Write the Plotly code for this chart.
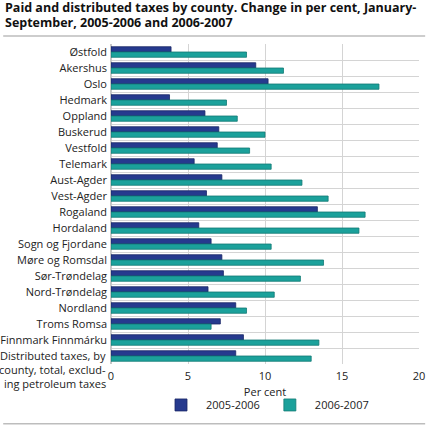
import plotly.graph_objects as go

# Counties, top to bottom as in the chart
counties = ["Østfold", "Akershus", "Oslo", "Hedmark", "Oppland", "Buskerud",
            "Vestfold", "Telemark", "Aust-Agder", "Vest-Agder", "Rogaland",
            "Hordaland", "Sogn og Fjordane", "Møre og Romsdal", "Sør-Trøndelag",
            "Nord-Trøndelag", "Nordland", "Troms Romsa", "Finnmark Finnmárku",
            "Distributed taxes, by<br>county, total, exclud-<br>ing petroleum taxes"]

# Change in per cent
change_2005_2006 = [3.9, 9.4, 10.2, 3.8, 6.1, 7.0, 6.9, 5.4, 7.2, 6.2, 13.4,
                    5.7, 6.5, 7.2, 7.3, 6.3, 8.1, 7.1, 8.6, 8.1]
change_2006_2007 = [8.8, 11.2, 17.4, 7.5, 8.2, 10.0, 9.0, 10.4, 12.4, 14.1, 16.5,
                    16.1, 10.4, 13.8, 12.3, 10.6, 8.8, 6.5, 13.5, 13.0]

x_ticks = [0, 5, 10, 15, 20]

title_lines = ["Paid and distributed taxes by county. Change in per cent, January-",
               "September, 2005-2006 and 2006-2007"]

pos = list(range(len(counties)))
FONT = "Open Sans, sans-serif"
FS = 11

fig = go.Figure()
fig.add_trace(go.Bar(y=pos, x=change_2005_2006, orientation="h", name="2005-2006",
                     marker=dict(color="#263a8e", line=dict(color="#1a2766", width=0.8))))
fig.add_trace(go.Bar(y=pos, x=change_2006_2007, orientation="h", name="2006-2007",
                     marker=dict(color="#1ba19b", line=dict(color="#137a75", width=0.8))))

fig.update_layout(
    width=427, height=428,
    margin=dict(l=111, r=8, t=44, b=64, autoexpand=False),
    paper_bgcolor="white", plot_bgcolor="white",
    barmode="group", bargap=0.34, bargroupgap=0,
    font=dict(family=FONT, size=FS, color="#222222"),
    legend=dict(orientation="h", x=0.5, xanchor="center", y=-0.128, yanchor="middle",
                font=dict(size=FS), itemwidth=40, traceorder="normal"),
    showlegend=True,
)

# the last (three-line) label hangs down from its tick, so each line is an annotation
# (paper coords, since lines below the last band would be hidden with data coords)
ticktext = counties[:-1] + [""]
n = len(counties)
for i, line in enumerate(counties[-1].split("<br>")):
    y_data = (n - 1) - 0.06 + i * 0.875
    fig.add_annotation(text=line, xref="paper", yref="paper", x=-0.01,
                       y=(n - 0.5 - y_data) / n,
                       xanchor="right", yanchor="middle", showarrow=False,
                       font=dict(size=FS))

# title, one annotation per line to keep the tight line spacing
for i, line in enumerate(title_lines):
    fig.add_annotation(text="<b>" + line + "</b>", xref="paper", yref="paper",
                       x=-0.352, y=1.1125 - i * 0.044, xanchor="left", yanchor="middle",
                       showarrow=False, font=dict(size=12.5, color="#111111"))

fig.update_xaxes(range=[0, 20], tickvals=x_ticks, showgrid=True, gridcolor="#d4d4d4",
                 gridwidth=1, zeroline=True, zerolinecolor="#c8c8c8", ticks="",
                 automargin=False, ticklabelstandoff=4,
                 title=dict(text="Per cent", standoff=6, font=dict(size=FS)),
                 fixedrange=True)
fig.update_yaxes(range=[n - 0.5, -0.5], tickvals=pos, ticktext=ticktext,
                 showgrid=False, ticks="", zeroline=False, automargin=False,
                 ticklabelstandoff=3,
                 minor=dict(tickvals=[p + 0.5 for p in pos[:-1]], showgrid=True,
                            gridcolor="#d4d4d4", gridwidth=1),
                 fixedrange=True)

# rules under the title and at the bottom
fig.add_shape(type="line", xref="paper", yref="paper", x0=-0.35, x1=1.02,
              y0=1.025, y1=1.025, line=dict(color="#bdbdbd", width=1.5))
fig.add_shape(type="line", xref="paper", yref="paper", x0=-0.35, x1=1.02,
              y0=-0.187, y1=-0.187, line=dict(color="#bdbdbd", width=1.5))

# drop the page's default body margin so the figure sits at the window's corner
fig.write_html("out.html", config={"displayModeBar": False},
               post_script="document.body.style.margin='0';")
